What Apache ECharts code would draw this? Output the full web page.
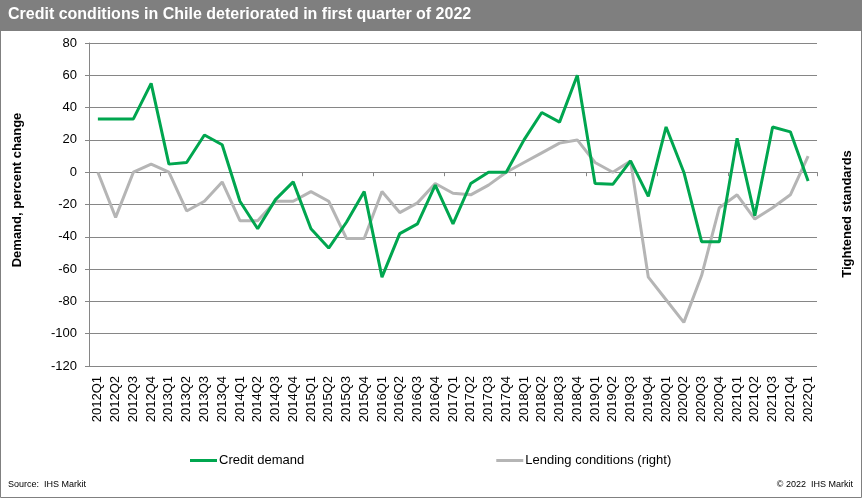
<!DOCTYPE html>
<html><head><meta charset="utf-8">
<script src="https://cdn.jsdelivr.net/npm/echarts@6/dist/echarts.min.js"></script>
<style>html,body{margin:0;padding:0;background:#fff}#c{width:866px;height:500px}</style>
</head><body><div id="c"></div>
<script>
var categories = ['2012Q1','2012Q2','2012Q3','2012Q4','2013Q1','2013Q2','2013Q3','2013Q4','2014Q1','2014Q2','2014Q3','2014Q4','2015Q1','2015Q2','2015Q3','2015Q4','2016Q1','2016Q2','2016Q3','2016Q4','2017Q1','2017Q2','2017Q3','2017Q4','2018Q1','2018Q2','2018Q3','2018Q4','2019Q1','2019Q2','2019Q3','2019Q4','2020Q1','2020Q2','2020Q3','2020Q4','2021Q1','2021Q2','2021Q3','2021Q4','2022Q1'];
var creditDemand = [33,33,33,55,5,6,23,17,-18,-35,-17,-6,-35,-47,-31,-12,-65,-38,-32,-8,-32,-7,0,0,20,37,31,60,-7,-7.5,7,-15,28,0,-43,-43,21,-27,28,25,-5.5];
var lendingConditions = [0,-28,0,5,0,-24,-18,-6,-30,-30,-18,-18,-12,-18,-41,-41,-12,-25,-19,-7,-13,-14,-8,0,6,12,18,20,6,0,7,-65,-79,-93,-64,-22,-14,-29,-22,-14,10];
var yTicks = {min:-120, max:80, interval:20};

var GRID = '#868686';
var chart = echarts.init(document.getElementById('c'), null, {renderer:'canvas'});
chart.setOption({
  animation:false,
  textStyle:{fontFamily:'Arial, "Liberation Sans", sans-serif'},
  grid:{left:89, right:49, top:43, bottom:134, containLabel:false},
  legend:{
    left:190, top:454, padding:0, itemGap:192, itemWidth:27, itemHeight:3,
    textStyle:{fontSize:13, color:'#000', padding:[0,0,0,-3]},
    data:[{name:'Credit demand', icon:'rect'},{name:'Lending conditions (right)', icon:'rect'}]
  },
  xAxis:[{
    type:'category', data:categories, boundaryGap:true, position:'bottom',
    axisLine:{show:true, onZero:true, lineStyle:{color:GRID, width:1}},
    axisTick:{show:true, length:4, lineStyle:{color:GRID}},
    axisLabel:{show:false}, splitLine:{show:false}
  },{
    type:'category', data:categories, boundaryGap:true, position:'bottom',
    axisLine:{show:false, onZero:false}, axisTick:{show:false},
    axisLabel:{show:true, rotate:90, interval:0, fontSize:13, color:'#000', margin:10}
  }],
  yAxis:[{
    type:'value', min:yTicks.min, max:yTicks.max, interval:yTicks.interval,
    axisLine:{show:true, lineStyle:{color:GRID}},
    axisTick:{show:true, length:4, inside:false, lineStyle:{color:GRID}},
    axisLabel:{fontSize:13, color:'#000', margin:12},
    splitLine:{show:true, lineStyle:{color:GRID, width:1}}
  },{
    type:'value', min:yTicks.min, max:yTicks.max, interval:yTicks.interval, position:'right',
    axisLine:{show:false}, axisTick:{show:false}, axisLabel:{show:false}, splitLine:{show:false}
  }],
  series:[{
    name:'Credit demand', type:'line', data:creditDemand, xAxisIndex:0, yAxisIndex:0,
    symbol:'none', lineStyle:{color:'#00a64f', width:3}, itemStyle:{color:'#00a64f'}, z:3
  },{
    name:'Lending conditions (right)', type:'line', data:lendingConditions, xAxisIndex:0, yAxisIndex:1,
    symbol:'none', lineStyle:{color:'#b5b5b5', width:3}, itemStyle:{color:'#b5b5b5'}, z:2
  }],
  graphic:[
    {type:'rect', shape:{x:0.5,y:0.5,width:861,height:497}, style:{fill:'none', stroke:'#808080', lineWidth:1}, z:0},
    {type:'rect', shape:{x:0,y:0,width:862,height:31}, style:{fill:'#7f7f7f'}, z:1},
    {type:'text', left:8, top:7, style:{text:'Credit conditions in Chile deteriorated in first quarter of 2022', fill:'#fff', font:'bold 16px Arial, "Liberation Sans", sans-serif'}, z:2},
    {type:'text', x:17, y:190, rotation:Math.PI/2, style:{text:'Demand, percent change', fill:'#000', font:'bold 13px Arial, "Liberation Sans", sans-serif', align:'center', verticalAlign:'middle'}},
    {type:'text', x:847, y:214, rotation:Math.PI/2, style:{text:'Tightened standards', fill:'#000', font:'bold 13px Arial, "Liberation Sans", sans-serif', align:'center', verticalAlign:'middle'}},
    {type:'text', x:8, y:485, style:{text:'Source:  IHS Markit', fill:'#000', font:'9px Arial, "Liberation Sans", sans-serif', align:'left', verticalAlign:'middle'}},
    {type:'text', x:853, y:485, style:{text:'\u00a9 2022  IHS Markit', fill:'#000', font:'9px Arial, "Liberation Sans", sans-serif', align:'right', verticalAlign:'middle'}}
  ]
});
</script></body></html>
